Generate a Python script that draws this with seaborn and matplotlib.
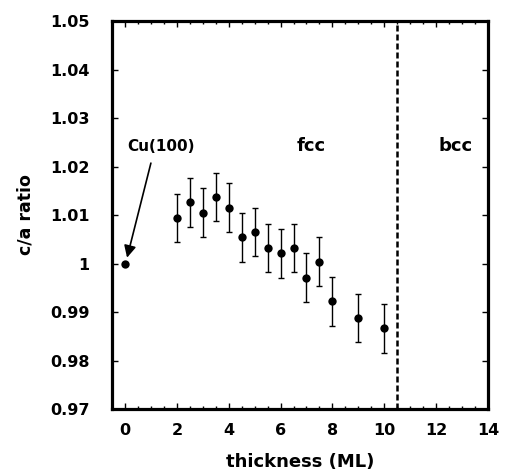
import matplotlib
matplotlib.use("Agg")
import matplotlib.pyplot as plt
import seaborn as sns
import pandas as pd
from matplotlib.ticker import MultipleLocator, FixedLocator

sns.set_style("ticks")
plt.rcParams['font.family'] = ['DejaVu Sans']
plt.rcParams['font.weight'] = 'bold'
plt.rcParams['text.color'] = 'black'
plt.rcParams['axes.labelcolor'] = 'black'
plt.rcParams['xtick.color'] = 'black'
plt.rcParams['ytick.color'] = 'black'

# data
thickness = [0, 2, 2.5, 3, 3.5, 4, 4.5, 5, 5.5, 6, 6.5, 7, 7.5, 8, 9, 10]
ca_ratio = [1.000, 1.0094, 1.0126, 1.0105, 1.0137, 1.0115, 1.0054, 1.0065,
            1.0032, 1.0021, 1.0032, 0.9971, 1.0004, 0.9922, 0.9888, 0.9866]
err = [0, 0.005, 0.005, 0.005, 0.005, 0.005, 0.005, 0.005,
       0.005, 0.005, 0.005, 0.005, 0.005, 0.005, 0.005, 0.005]
boundary = 10.5
x_ticks = [0, 2, 4, 6, 8, 10, 12, 14]
y_ticks = [0.97, 0.98, 0.99, 1.0, 1.01, 1.02, 1.03, 1.04, 1.05]
y_labels = ["0.97", "0.98", "0.99", "1", "1.01", "1.02", "1.03", "1.04", "1.05"]

df = pd.DataFrame({"thickness": thickness, "ratio": ca_ratio, "err": err})

fig = plt.figure(figsize=(5.08, 4.73), dpi=100)
ax = fig.add_axes([112/508, 64/473, 376/508, 388/473])

eb = df[df.err > 0]
ax.errorbar(eb.thickness, eb.ratio, yerr=eb.err, fmt='none', ecolor='black',
            elinewidth=1.0, capsize=2.0, capthick=1.0, zorder=2)
sns.scatterplot(data=df, x="thickness", y="ratio", color="black", s=36,
                edgecolor="black", linewidth=0, ax=ax, zorder=3)

ax.axvline(boundary, color='black', linestyle=(0, (2.4, 1.2)), linewidth=1.8)

ax.text(7.2, 1.0242, "fcc", ha='center', va='center', fontsize=13, fontweight='bold', color='black')
ax.text(12.75, 1.0242, "bcc", ha='center', va='center', fontsize=13, fontweight='bold', color='black')
ax.text(1.38, 1.0242, "Cu(100)", ha='center', va='center', fontsize=11, fontweight='bold', color='black')
ax.annotate("", xy=(0.08, 1.0012), xytext=(1.0, 1.0207),
            arrowprops=dict(arrowstyle='-|>', color='black', lw=1.2,
                            mutation_scale=18, shrinkA=0, shrinkB=0))

ax.set_xlim(-0.5, 14)
ax.set_ylim(0.97, 1.05)
ax.xaxis.set_major_locator(FixedLocator(x_ticks))
ax.xaxis.set_minor_locator(MultipleLocator(0.5))
ax.yaxis.set_major_locator(FixedLocator(y_ticks))
ax.set_yticklabels(y_labels)
ax.set_xticklabels([str(t) for t in x_ticks])

ax.tick_params(axis='both', which='both', direction='in', top=True, right=True,
               colors='black', labelsize=11.5, width=1.0)
ax.tick_params(axis='x', which='major', length=4.5, pad=10)
ax.tick_params(axis='y', which='major', length=4.5, pad=16)
ax.tick_params(axis='both', which='minor', length=2.2)
for lab in ax.get_xticklabels() + ax.get_yticklabels():
    lab.set_fontweight('bold')

for sp in ax.spines.values():
    sp.set_linewidth(2.3)
    sp.set_color('black')

ax.set_xlabel("thickness (ML)", fontsize=13, fontweight='bold', labelpad=11, color='black')
ax.set_ylabel("c/a ratio", fontsize=12.5, fontweight='bold', labelpad=11, color='black')

fig.savefig("out.png", dpi=100)
